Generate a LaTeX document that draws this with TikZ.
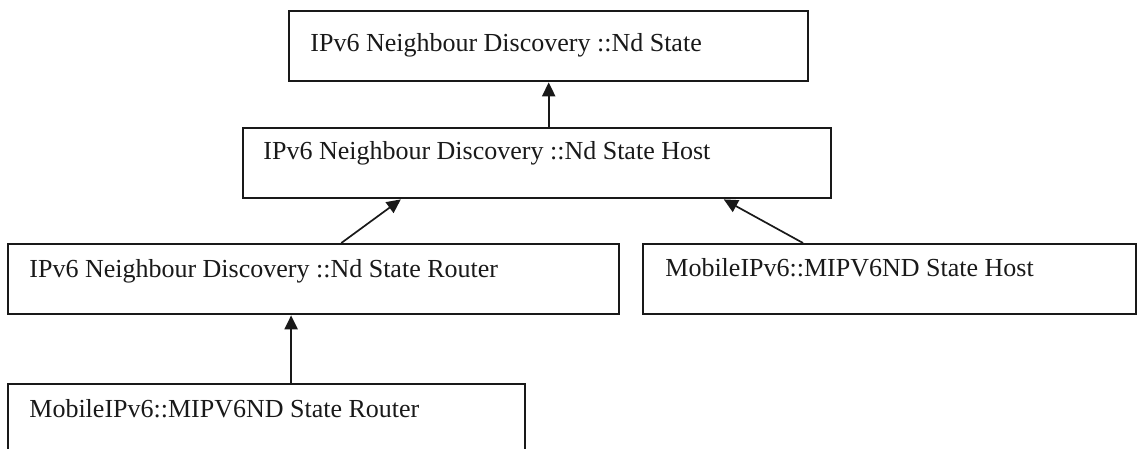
\documentclass[tikz,border=0pt]{standalone}
\usepackage{fontspec}
\setmainfont{Liberation Serif}
\usetikzlibrary{arrows.meta,calc}
\begin{document}
\begin{tikzpicture}[x=0.5pt,y=-0.5pt,
  classbox/.style={draw=black!90,line width=1.2pt,rectangle,inner sep=0pt,anchor=north west},
  lbl/.style={anchor=base west,inner sep=0pt,font=\fontsize{13pt}{15pt}\selectfont,text=black!90},
  inherit/.style={draw=black!90,line width=0.85pt,-{Triangle[length=7pt,width=6.6pt]}}]
\useasboundingbox (0,0) rectangle (1137,449);

% class boxes
\node[classbox,minimum width=259.5pt,minimum height=35pt] (b1) at (288,10) {};
\node[classbox,minimum width=294pt,minimum height=35pt] (b2) at (242,127) {};
\node[classbox,minimum width=305.5pt,minimum height=35pt] (b3) at (7,243) {};
\node[classbox,minimum width=246.5pt,minimum height=35pt] (b4) at (642,243) {};
\node[classbox,minimum width=258.5pt,minimum height=38pt] (b5) at (7,383) {};

% class names
\node[lbl] (t1) at ([shift={(22,42)}]b1.north west) {IPv6 Neighbour Discovery ::Nd State};
\node[lbl] (t2) at ([shift={(21,33)}]b2.north west) {IPv6 Neighbour Discovery ::Nd State Host};
\node[lbl] (t3) at ([shift={(22,35)}]b3.north west) {IPv6 Neighbour Discovery ::Nd State Router};
\node[lbl] (t4) at ([shift={(23,34)}]b4.north west) {MobileIPv6::MIPV6ND State Host};
\node[lbl] (t5) at ([shift={(22,34)}]b5.north west) {MobileIPv6::MIPV6ND State Router};

% generalisation arrows
\draw[inherit] (b1.south |- b2.north) -- (b1.south);
\draw[inherit] ($(b3.north west)!0.545!(b3.north east)$) -- ($(b2.south west)!0.269!(b2.south east)$);
\draw[inherit] ($(b4.north west)!0.325!(b4.north east)$) -- ($(b2.south west)!0.816!(b2.south east)$);
\coordinate (c5) at ($(b5.north west)!0.547!(b5.north east)$);
\draw[inherit] (c5) -- (c5 |- b3.south);
\end{tikzpicture}
\end{document}
